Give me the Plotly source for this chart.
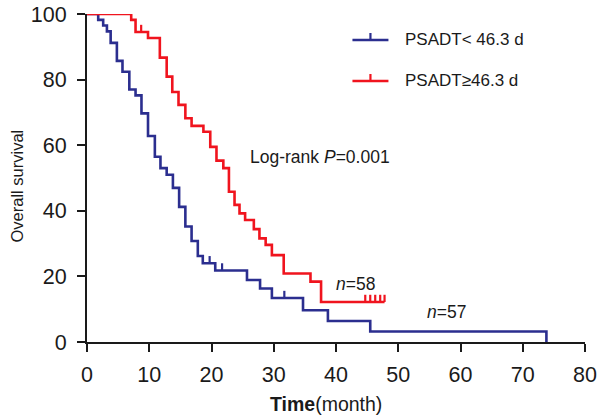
import plotly.graph_objects as go

# ---- data ----
blue_t = [0, 1.8, 2.6, 3.2, 3.8, 4.8, 5.7, 6.8, 7.8, 8.75, 9.8, 10.9, 11.8, 12.8, 13.8,
          14.8, 15.8, 16.8, 17.8, 18.6, 20.6, 25.7, 27.8, 29.7, 34.7, 38.7, 45.5, 73.8]
blue_s = [100, 98.2, 96.5, 94.7, 91.2, 85.7, 82.4, 77.0, 75.2, 69.7, 62.8, 56.5, 53.0, 51.0, 47.0,
          41.2, 35.2, 30.8, 26.2, 24.0, 21.8, 18.9, 16.3, 13.4, 9.7, 6.4, 3.2, 0]
blue_censor = [19.7, 21.7, 31.7]

red_t = [0, 7.1, 7.8, 9.8, 11.7, 12.8, 13.7, 14.7, 15.8, 16.8, 18.7, 19.8, 20.8, 21.9, 22.8,
         23.7, 24.5, 25.4, 26.8, 27.7, 28.7, 29.7, 31.6, 35.9, 37.6, 47.8]
red_s = [100, 98.2, 94.5, 92.7, 86.7, 80.9, 76.2, 72.3, 68.2, 65.9, 64.1, 59.5, 55.3, 53.0, 45.8,
         41.8, 39.2, 37.2, 34.4, 31.6, 29.6, 26.5, 20.9, 18.4, 12.2, 12.2]
red_censor = [2.9, 6.2, 6.8, 8.7, 44.7, 45.5, 46.3, 47.1, 47.8]

x_ticks = [0, 10, 20, 30, 40, 50, 60, 70, 80]
y_ticks = [0, 20, 40, 60, 80, 100]

BLUE = "#2b2e8f"
RED = "#f0141e"
INK = "#1a1a1a"
FONT = "Liberation Sans"
TICK_H = 2.2  # censor tick height in survival units


def step_value(ts, ss, t):
    v = ss[0]
    for ti, si in zip(ts, ss):
        if ti <= t:
            v = si
    return v


def censor_xy(ts, ss, cs):
    xs, ys = [], []
    for c in cs:
        v = step_value(ts, ss, c)
        xs += [c, c, None]
        ys += [v, v + TICK_H, None]
    return xs, ys


fig = go.Figure()

for ts, ss, cs, col in [(blue_t, blue_s, blue_censor, BLUE), (red_t, red_s, red_censor, RED)]:
    fig.add_trace(go.Scatter(x=ts, y=ss, mode="lines", line=dict(color=col, width=2.6, shape="hv"),
                             cliponaxis=False, showlegend=False, hoverinfo="skip"))
    cx, cy = censor_xy(ts, ss, cs)
    fig.add_trace(go.Scatter(x=cx, y=cy, mode="lines", line=dict(color=col, width=2.2),
                             cliponaxis=False, showlegend=False, hoverinfo="skip"))

# plot-area geometry in page pixels
L, T, W, H = 86.5, 14, 498.1, 328
def px(xp):
    return (xp - L) / W
def py(yp):
    return (T + H - yp) / H

shapes = []
annotations = []
# legend drawn manually (line sample with censor tick)
for yp, col, label in [(40, BLUE, "PSADT< 46.3 d"), (81, RED, "PSADT≥46.3 d")]:
    shapes.append(dict(type="line", xref="paper", yref="paper", x0=px(352), x1=px(388), y0=py(yp), y1=py(yp),
                       line=dict(color=col, width=2.6)))
    shapes.append(dict(type="line", xref="paper", yref="paper", x0=px(370), x1=px(370), y0=py(yp), y1=py(yp - 7),
                       line=dict(color=col, width=2.2)))
    annotations.append(dict(x=px(403), y=py(yp), xref="paper", yref="paper", text=label, showarrow=False,
                            xanchor="left", yanchor="middle", font=dict(family=FONT, size=17, color=INK)))

annotations += [
    dict(x=25.9, y=56.4, text="Log-rank <i>P</i>=0.001", showarrow=False, xanchor="left", yanchor="middle",
         font=dict(family=FONT, size=17.5, color=INK)),
    dict(x=39.6, y=17.7, text="<i>n</i>=58", showarrow=False, xanchor="left", yanchor="middle",
         font=dict(family=FONT, size=17.5, color=INK)),
    dict(x=54.3, y=9.1, text="<i>n</i>=57", showarrow=False, xanchor="left", yanchor="middle",
         font=dict(family=FONT, size=17.5, color=INK)),
    # axis titles
    dict(x=px(326), y=py(404), xref="paper", yref="paper", text="<b>Time</b>(month)", showarrow=False,
         xanchor="center", yanchor="middle", font=dict(family=FONT, size=19.5, color=INK)),
    dict(x=px(16), y=py(186), xref="paper", yref="paper", text="Overall survival", showarrow=False,
         textangle=-90, xanchor="center", yanchor="middle", font=dict(family=FONT, size=16.5, color=INK)),
]

fig.update_layout(
    width=600, height=417,
    margin=dict(l=L, r=600 - L - W, t=T, b=417 - T - H, pad=0),
    paper_bgcolor="white", plot_bgcolor="white",
    font=dict(family=FONT, color=INK),
    shapes=shapes, annotations=annotations,
    xaxis=dict(range=[0, 80], tickvals=x_ticks, ticktext=[str(v) for v in x_ticks], automargin=False,
               showline=True, linecolor=INK, linewidth=2.2, ticks="outside", ticklen=8, tickwidth=2.2,
               tickcolor=INK, showgrid=False, zeroline=False, ticklabelstandoff=4, ticklabeloverflow="allow",
               tickfont=dict(family=FONT, size=21.5, color=INK)),
    yaxis=dict(range=[0, 100], tickvals=y_ticks, ticktext=[str(v) for v in y_ticks], automargin=False,
               showline=True, linecolor=INK, linewidth=2.2, ticks="outside", ticklen=8, tickwidth=2.2,
               tickcolor=INK, showgrid=False, zeroline=False, ticklabelstandoff=6, ticklabeloverflow="allow",
               tickfont=dict(family=FONT, size=21.5, color=INK)),
)

# remove the page's default body margin so the figure sits at the top-left corner
fig.write_html("out.html", config={"displayModeBar": False},
               post_script="document.body.style.margin='0';document.body.style.overflow='hidden';")
